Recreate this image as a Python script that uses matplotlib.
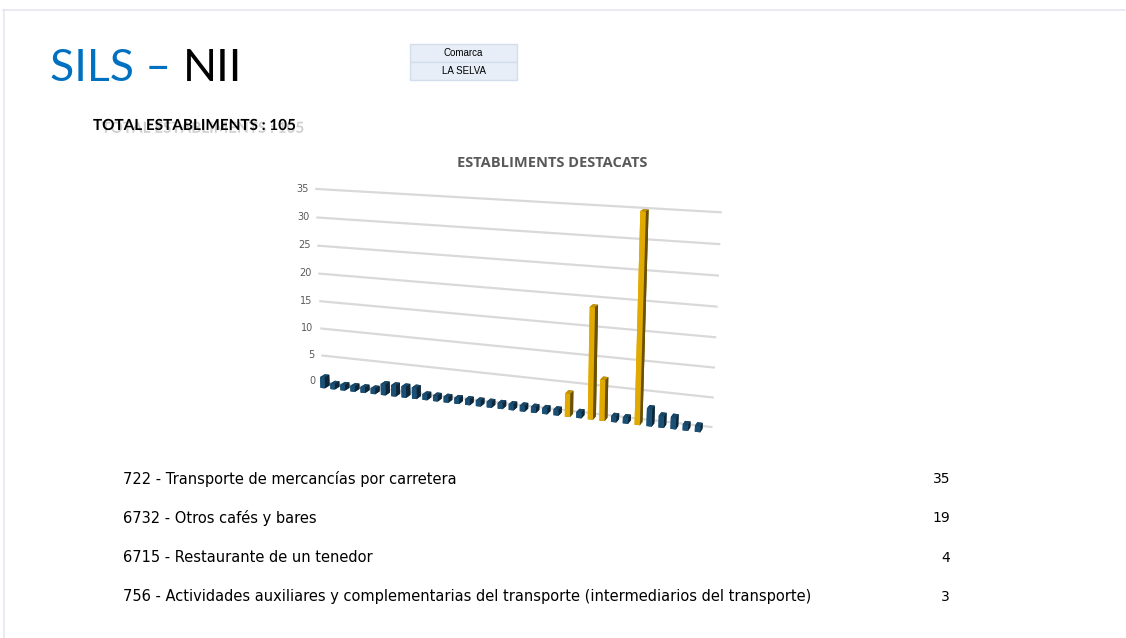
import numpy as np
import matplotlib
matplotlib.use("Agg")
import matplotlib.pyplot as plt
import matplotlib.patheffects as pe
from matplotlib.patches import Rectangle

# dades llegides del grafic
posicions = np.arange(1, 36)
valors = [2, 1, 1, 1, 1, 1, 2, 2, 2, 2, 1, 1, 1, 1, 1, 1, 1, 1, 1, 1, 1, 1, 1,
          4, 1, 19, 7, 1, 1, 35, 3, 2, 2, 1, 1]
destacats = [24, 26, 27, 30]
eix_z = [0, 5, 10, 15, 20, 25, 30, 35]

activitats = ["722 - Transporte de mercancías por carretera",
              "6732 - Otros cafés y bares",
              "6715 - Restaurante de un tenedor",
              "756 - Actividades auxiliares y complementarias del transporte (intermediarios del transporte)"]
quantitats = [35, 19, 4, 3]

W, H = 1126, 638
fig = plt.figure(figsize=(W / 100, H / 100), dpi=100)


def fx(x):
    return x / W


def fy(y):
    return 1 - y / H


# marc de la pagina
fig.add_artist(plt.Line2D([fx(3), fx(1125)], [fy(10), fy(10)], color="#e6e6f2", lw=1.2))
fig.add_artist(plt.Line2D([fx(3.5), fx(3.5)], [fy(10), fy(638)], color="#e6e6f2", lw=1.2))

# titol
t1 = fig.text(fx(50), fy(81), "SILS – ", color="#0070c0", fontsize=32,
              family="Lato", va="baseline")
fig.canvas.draw()
bb = t1.get_window_extent()
fig.text(bb.x1 / W, fy(81), "NII", color="black", fontsize=32,
         family="Lato", va="baseline")

# caixa comarca
for i, txt in enumerate(["Comarca", "LA SELVA"]):
    y0 = 44 + i * 18
    fig.add_artist(Rectangle((fx(410), fy(y0 + 18)), fx(107), 18 / H,
                             facecolor="#e7eef7", edgecolor="#d3deec", lw=1))
    fig.text(fx(463.5), fy(y0 + 9), txt, fontsize=7, ha="center", va="center",
             family="Liberation Sans")

# total
fig.text(fx(93), fy(126), "TOTAL ESTABLIMENTS : 105", fontsize=11, fontweight="bold",
         family="Lato", va="center",
         path_effects=[pe.withSimplePatchShadow(offset=(6, -2), shadow_rgbFace="#888888", alpha=0.4)])

# titol grafic
fig.text(fx(552), fy(163), "ESTABLIMENTS DESTACATS", fontsize=10.5, fontweight="bold",
         color="#595959", ha="center", va="center", family="Open Sans")

# grafic 3D (caixa quadrada)
S = 460
cx, cy = 496, 313
ax = fig.add_axes([fx(cx - S / 2), fy(cy + S / 2), fx(S), S / H], projection="3d")
ax.set_axis_off()
ax.patch.set_alpha(0)
ax.set_proj_type("persp", focal_length=0.5)
ax.view_init(elev=14, azim=-70)
ax.set_box_aspect((5.55, 0.35, 2.74), zoom=1.01)
ax.set_xlim(0, 36)
ax.set_ylim(0, 1)
ax.set_zlim(0, 35)

for v in eix_z:
    ax.plot([0.2, 35.8], [1, 1], [v, v], color="#d9d9d9", lw=1.6, zorder=1)
    ax.text(-0.6, 1, v, str(v), fontsize=7, color="#595959", ha="right", va="center")

colors = ["#ffc000" if p in destacats else "#1f5b86" for p in posicions]
ax.bar3d(posicions - 0.25, np.full(35, 0.3), np.zeros(35), 0.45, 0.4, valors,
         color=colors, shade=True, zorder=3)

# taula
for i, (a, q) in enumerate(zip(activitats, quantitats)):
    yy = 479 + i * 39.3
    fig.text(fx(123), fy(yy), a, fontsize=10.5, va="center", family="DejaVu Sans")
    fig.text(fx(950), fy(yy), str(q), fontsize=10, va="center", ha="right", family="DejaVu Sans")

fig.savefig("out.png", dpi=100)
